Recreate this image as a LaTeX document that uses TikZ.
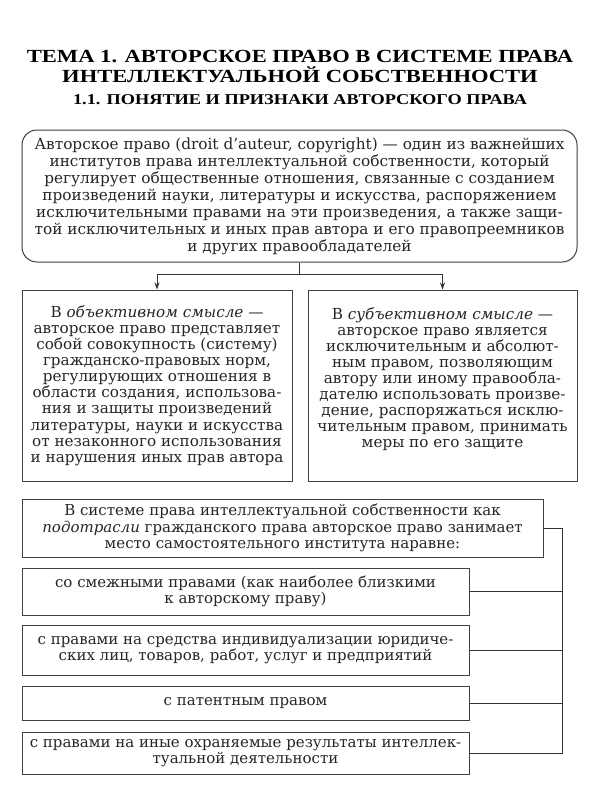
\documentclass[tikz,border=0pt]{standalone}
\usepackage{fontspec}
\usepackage{graphicx}
\setmainfont{DejaVu Serif}
\newfontfamily\titlefont{Liberation Serif}
\usetikzlibrary{arrows.meta}
\newcommand{\wideT}[1]{\scalebox{1.22}[1]{#1}}
\tikzset{
  ttl/.style={anchor=base, font=\titlefont\bfseries\fontsize{18.5}{19}\selectfont},
  subttl/.style={anchor=base, font=\titlefont\bfseries\fontsize{15}{16}\selectfont},
  txt/.style={font=\fontsize{15.3}{17}\selectfont, align=center, inner sep=0pt, text=black!85},
  boxa/.style={txt, draw=black!75, line width=1pt, font=\fontsize{15.2}{16.1}\selectfont},
  boxb/.style={txt, draw=black!75, line width=1pt, font=\fontsize{15}{16.2}\selectfont},
  link/.style={draw=black!80, line width=1pt},
  arr/.style={link, -{Stealth[length=7pt,width=5pt]}}
}
\begin{document}
\begin{tikzpicture}[x=1pt,y=-1pt]
\useasboundingbox[fill=white] (0,0) rectangle (600,800);
\node[ttl] (t1) at (300,63) {\wideT{ТЕМА 1. АВТОРСКОЕ ПРАВО В СИСТЕМЕ ПРАВА}};
\node[ttl] (t2) at (300,82) {\wideT{ИНТЕЛЛЕКТУАЛЬНОЙ СОБСТВЕННОСТИ}};
\node[subttl] (t3) at (300,104) {\wideT{1.1. ПОНЯТИЕ И ПРИЗНАКИ АВТОРСКОГО ПРАВА}};

\node[txt, draw=black!75, line width=1pt, rounded corners=15pt,
      minimum width=555pt, minimum height=132pt] (def) at (299.5,196)
{Авторское право (droit d’auteur, copyright) — один из важнейших\\
институтов права интеллектуальной собственности, который\\
регулирует общественные отношения, связанные с созданием\\
произведений науки, литературы и искусства, распоряжением\\
исключительными правами на эти произведения, а также защи-\\
той исключительных и иных прав автора и его правопреемников\\
и других правообладателей};

\node[boxa, minimum width=270pt, minimum height=191pt] (obj) at (157,385.5)
{В \textit{объективном смысле} —\\
авторское право представляет\\
собой совокупность (систему)\\
гражданско-правовых норм,\\
регулирующих отношения в\\
области создания, использова-\\
ния и защиты произведений\\
литературы, науки и искусства\\
от незаконного использования\\
и нарушения иных прав автора};

\node[boxa, minimum width=269pt, minimum height=191pt] (subj) at (442.5,385.5)
{В \textit{субъективном смысле} —\\
авторское право является\\
исключительным и абсолют-\\
ным правом, позволяющим\\
автору или иному правообла-\\
дателю использовать произве-\\
дение, распоряжаться исклю-\\
чительным правом, принимать\\
меры по его защите\\
~};

\draw[link] (def.south) -- ++(0,12) coordinate (j);
\draw[arr] (j) -| (obj.north);
\draw[arr] (j) -| (subj.north);

\node[boxb, minimum width=521pt, minimum height=58pt] (b1) at (282.5,528)
{В системе права интеллектуальной собственности как\\
\textit{подотрасли} гражданского права авторское право занимает\\
место самостоятельного института наравне:};
\node[boxb, minimum width=447pt, minimum height=47pt] (b2) at (245.5,591.5)
{со смежными правами (как наиболее близкими\\
к авторскому праву)};
\node[boxb, minimum width=447pt, minimum height=50pt] (b3) at (245.5,650)
{с правами на средства индивидуализации юридиче-\\
ских лиц, товаров, работ, услуг и предприятий};
\node[boxb, minimum width=447pt, minimum height=34pt] (b4) at (245.5,703)
{с патентным правом};
\node[boxb, minimum width=447pt, minimum height=42pt] (b5) at (245.5,753)
{с правами на иные охраняемые результаты интеллек-\\
туальной деятельности};

\coordinate (bar) at (562,528);
\draw[link] (b1.east) -- (bar) |- (b5.east);
\draw[link] (b2.east) -- (b2.east -| bar);
\draw[link] (b3.east) -- (b3.east -| bar);
\draw[link] (b4.east) -- (b4.east -| bar);
\end{tikzpicture}
\end{document}
